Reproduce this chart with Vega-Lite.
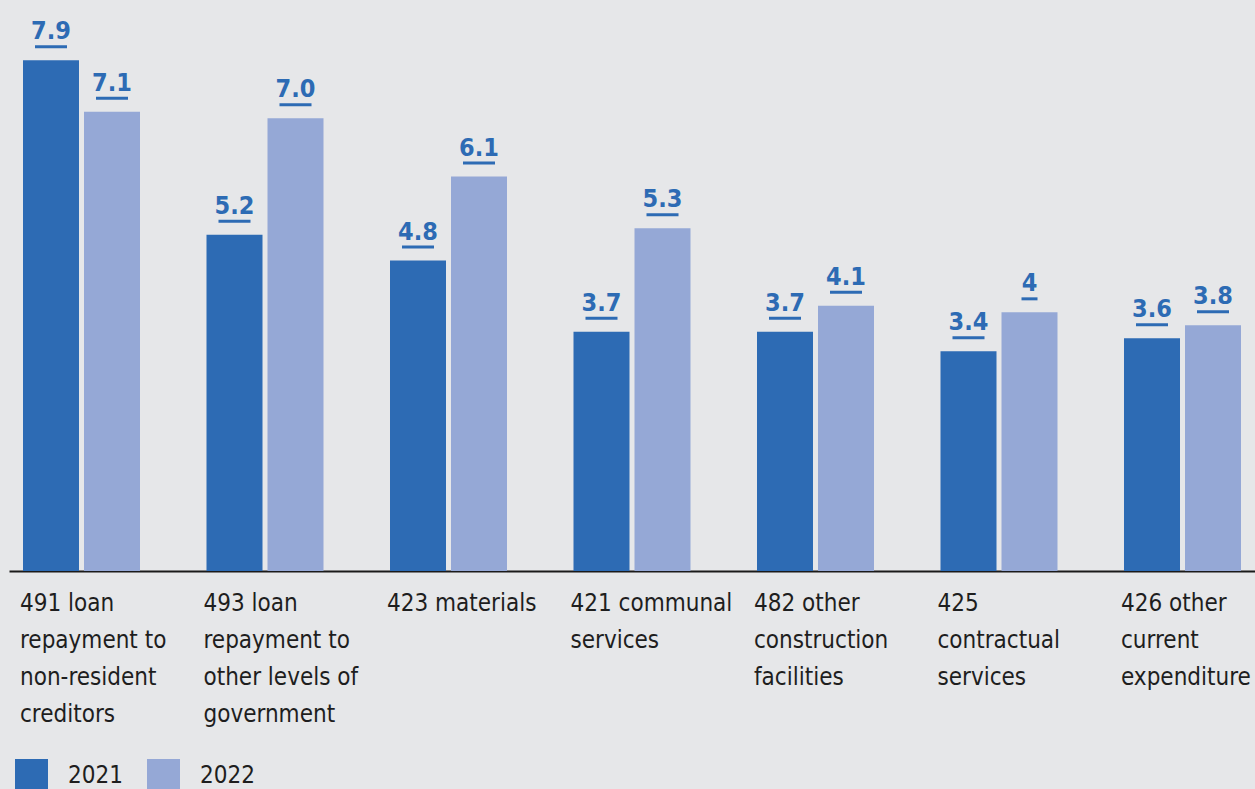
{
  "$schema": "https://vega.github.io/schema/vega-lite/v6.json",
  "autosize": {"type": "none"},
  "padding": {"left": 9, "top": 0, "right": 0, "bottom": 218},
  "width": 1246,
  "height": 571,
  "background": "#e6e7e9",
  "config": {
    "view": {"stroke": null},
    "font": "DejaVu Sans Condensed, DejaVu Sans, sans-serif"
  },
  "data": {
    "values": [
      {"category": "491 loan|repayment to|non-resident|creditors", "year": "2021", "value": 7.9, "label": "7.9"},
      {"category": "491 loan|repayment to|non-resident|creditors", "year": "2022", "value": 7.1, "label": "7.1"},
      {"category": "493 loan|repayment to|other levels of|government", "year": "2021", "value": 5.2, "label": "5.2"},
      {"category": "493 loan|repayment to|other levels of|government", "year": "2022", "value": 7.0, "label": "7.0"},
      {"category": "423 materials", "year": "2021", "value": 4.8, "label": "4.8"},
      {"category": "423 materials", "year": "2022", "value": 6.1, "label": "6.1"},
      {"category": "421 communal|services", "year": "2021", "value": 3.7, "label": "3.7"},
      {"category": "421 communal|services", "year": "2022", "value": 5.3, "label": "5.3"},
      {"category": "482 other|construction|facilities", "year": "2021", "value": 3.7, "label": "3.7"},
      {"category": "482 other|construction|facilities", "year": "2022", "value": 4.1, "label": "4.1"},
      {"category": "425|contractual|services", "year": "2021", "value": 3.4, "label": "3.4"},
      {"category": "425|contractual|services", "year": "2022", "value": 4.0, "label": "4"},
      {"category": "426 other|current|expenditure", "year": "2021", "value": 3.6, "label": "3.6"},
      {"category": "426 other|current|expenditure", "year": "2022", "value": 3.8, "label": "3.8"}
    ]
  },
  "encoding": {
    "x": {
      "field": "category",
      "type": "nominal",
      "sort": null,
      "scale": {"paddingInner": 0.3624, "paddingOuter": 0.0763},
      "axis": {
        "title": null,
        "labels": false,
        "ticks": false,
        "grid": false,
        "domain": true,
        "domainColor": "#1a1a1a",
        "domainWidth": 2
      }
    }
  },
  "layer": [
    {
      "mark": {"type": "bar"},
      "encoding": {
        "xOffset": {"field": "year", "type": "nominal", "scale": {"paddingInner": 0.082, "paddingOuter": 0}},
        "y": {"field": "value", "type": "quantitative", "scale": {"domain": [0, 8.83], "nice": false}, "axis": null},
        "color": {
          "field": "year",
          "type": "nominal",
          "scale": {"domain": ["2021", "2022"], "range": ["#2d6bb4", "#95a8d6"]},
          "legend": {
            "orient": "none",
            "legendX": 6,
            "legendY": 759,
            "direction": "horizontal",
            "title": null,
            "symbolType": "square",
            "symbolSize": 1089,
            "symbolStrokeWidth": 0,
            "symbolOpacity": 1,
            "labelFontSize": 24,
            "labelColor": "#1e1e1e",
            "labelOffset": 20,
            "columnPadding": 24,
            "padding": 0
          }
        }
      }
    },
    {
      "mark": {"type": "text", "baseline": "alphabetic", "dy": -21, "fontSize": 25, "fontWeight": "bold", "color": "#2d6bb4"},
      "encoding": {
        "xOffset": {"field": "year", "type": "nominal"},
        "y": {"field": "value", "type": "quantitative"},
        "text": {"field": "label", "type": "nominal"}
      }
    },
    {
      "transform": [{"calculate": "length(datum.label)", "as": "len"}],
      "mark": {"type": "tick", "thickness": 3, "yOffset": -13.5, "color": "#2d6bb4", "opacity": 1},
      "encoding": {
        "xOffset": {"field": "year", "type": "nominal"},
        "y": {"field": "value", "type": "quantitative"},
        "size": {"field": "len", "type": "quantitative", "scale": {"domain": [1, 3], "range": [16, 32], "zero": false}, "legend": null}
      }
    },
    {
      "transform": [{"filter": "datum.year == '2021'"}],
      "mark": {"type": "text", "align": "left", "baseline": "alphabetic", "dy": 40, "dx": -3, "fontSize": 24, "lineBreak": "|", "lineHeight": 37, "color": "#1e1e1e"},
      "encoding": {
        "x": {"field": "category", "type": "nominal", "sort": null, "bandPosition": 0},
        "y": {"datum": 0, "type": "quantitative"},
        "text": {"field": "category", "type": "nominal"}
      }
    }
  ]
}
